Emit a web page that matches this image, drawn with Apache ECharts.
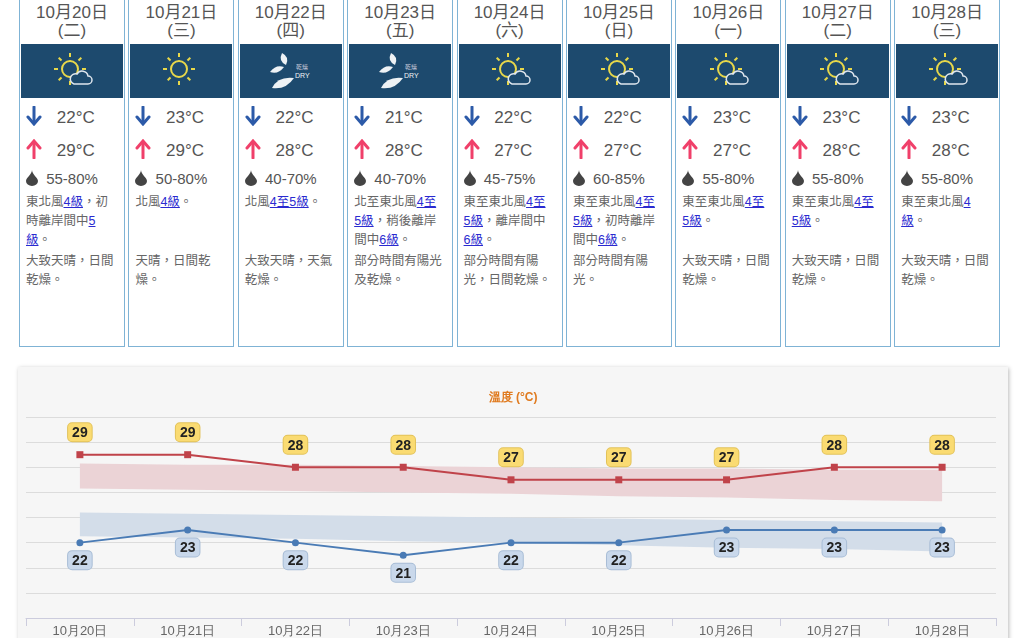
<!DOCTYPE html>
<html>
<head>
<meta charset="utf-8">
<script src="https://cdn.jsdelivr.net/npm/echarts@6/dist/echarts.min.js"></script>
<style>
body{margin:0;width:1024px;height:638px;overflow:hidden;background:#fff;font-family:Arial,"Noto Sans CJK TC",sans-serif;position:relative}
#cards{position:absolute;left:19px;top:-4px;display:flex;gap:3.4px}
.card{width:106px;height:351px;border:1px solid #7fb3d5;box-sizing:border-box;position:relative;color:#555}
.dt{text-align:center;font-size:17px;line-height:18px;margin-top:7px}
.ic{position:absolute;left:1px;right:1px;top:47px;height:54px;background:#1d4a6e}
.ic svg{position:absolute;left:50%;top:50%;transform:translate(-50%,-50%)}
.row{position:absolute;left:6px;font-size:17px;color:#555}
.row b{display:inline-block;width:26px;font-weight:bold}
.hum{position:absolute;left:6px;top:173px;font-size:15px;color:#555}
.wind{position:absolute;left:6px;right:10px;top:196px;font-size:12.5px;line-height:19px;color:#666}
.wind a{color:#2a2ad0;text-decoration:underline}
.desc{position:absolute;left:6px;right:10px;top:255px;font-size:12.5px;line-height:19px;color:#666}
#chart{position:absolute;left:18px;top:367px;width:990px;height:275px;background:#f6f6f6;box-shadow:1px 1px 4px #bbb}
</style>
</head>
<body>
<div id="cards"></div>
<div id="chart"></div>
<script>
var dates = ["10月20日","10月21日","10月22日","10月23日","10月24日","10月25日","10月26日","10月27日","10月28日"];
var weekdays = ["(二)","(三)","(四)","(五)","(六)","(日)","(一)","(二)","(三)"];
var icons = ["suncloud","sun","dry","dry","suncloud","suncloud","suncloud","suncloud","suncloud"];
var minTemp = [22, 23, 22, 21, 22, 22, 23, 23, 23];
var maxTemp = [29, 29, 28, 28, 27, 27, 27, 28, 28];
var humidity = ["55-80%","50-80%","40-70%","40-70%","45-75%","60-85%","55-80%","55-80%","55-80%"];
var winds = [
  '東北風<a>4級</a>，初時離岸間中<a>5級</a>。',
  '北風<a>4級</a>。',
  '北風<a>4至5級</a>。',
  '北至東北風<a>4至5級</a>，稍後離岸間中<a>6級</a>。',
  '東至東北風<a>4至5級</a>，離岸間中<a>6級</a>。',
  '東至東北風<a>4至5級</a>，初時離岸間中<a>6級</a>。',
  '東至東北風<a>4至5級</a>。',
  '東至東北風<a>4至5級</a>。',
  '東至東北風<a>4級</a>。'
];
var descs = ["大致天晴，日間乾燥。","天晴，日間乾燥。","大致天晴，天氣乾燥。","部分時間有陽光及乾燥。","部分時間有陽光，日間乾燥。","部分時間有陽光。","大致天晴，日間乾燥。","大致天晴，日間乾燥。","大致天晴，日間乾燥。"];
// 氣候範圍帶 (估計)
var maxBandLow = [26.3, 26.2, 26.1, 26.0, 25.9, 25.7, 25.6, 25.4, 25.3];
var maxBandHigh = [28.3, 28.2, 28.2, 28.1, 28.0, 27.9, 27.9, 27.8, 27.8];
var minBandLow = [22.5, 22.4, 22.3, 22.1, 22.0, 21.8, 21.6, 21.5, 21.3];
var minBandHigh = [24.4, 24.3, 24.2, 24.1, 24.0, 23.9, 23.8, 23.7, 23.6];

function sunSvg(cloud){
  var s = '<svg width="44" height="40" viewBox="0 0 44 40"><g stroke="#e8d84a" stroke-width="2" fill="none">'+
    '<circle cx="20" cy="18" r="8"/>';
  for (var i = 0; i < 8; i++) {
    var a = i * Math.PI / 4;
    s += '<line x1="'+(20+12*Math.cos(a))+'" y1="'+(18+12*Math.sin(a))+'" x2="'+(20+16*Math.cos(a))+'" y2="'+(18+16*Math.sin(a))+'"/>';
  }
  s += '</g>';
  if (cloud) s += '<path d="M24 33 h14 a4 4 0 0 0 0-8 a6 6 0 0 0-11-2 a5 5 0 0 0-3 10z" fill="#1d4a6e" stroke="#dfe6ee" stroke-width="1.5"/>';
  return s + '</svg>';
}
function drySvg(){
  return '<svg width="50" height="40" viewBox="0 0 50 40"><g fill="#eef2f5">'+
    '<path d="M16 2 q8 4 4 12 q-8 -4 -4 -12z"/>'+
    '<path d="M4 21 q6 -8 14 -5 q-6 8 -14 5z"/>'+
    '<path d="M6 37 q6 -12 22 -10 q-8 12 -22 10z"/></g>'+
    '<text x="30" y="18" font-size="6" fill="#ccd">乾燥</text><text x="29" y="27" font-size="7" fill="#eef2f5">DRY</text></svg>';
}

var html = '';
for (var i = 0; i < dates.length; i++) {
  var ic = icons[i] == 'dry' ? drySvg() : sunSvg(icons[i] == 'suncloud');
  html += '<div class="card"><div class="dt">'+dates[i]+'<br>'+weekdays[i]+'</div>'+
    '<div class="ic">'+ic+'</div>'+
    '<div class="row" style="top:109px"><b></b> '+minTemp[i]+'°C</div>'+
    '<div class="row" style="top:142px"><b></b> '+maxTemp[i]+'°C</div>'+
    '<div class="hum"><span></span> '+humidity[i]+'</div>'+
    '<div class="wind">'+winds[i]+'</div><div class="desc">'+descs[i]+'</div></div>';
}
document.getElementById('cards').innerHTML = html;
// 水滴與箭頭圖形
document.querySelectorAll('.hum span').forEach(function(s){
  s.outerHTML = '<svg width="12" height="16" viewBox="0 0 12 16" style="vertical-align:-2px;margin-right:4px"><path d="M6 0 C6 4 0 8 0 11 a6 5 0 0 0 12 0 C12 8 6 4 6 0z" fill="#444"/></svg>';
});
document.querySelectorAll('.row b').forEach(function(b, k){
  var up = k % 2 == 1, c = up ? '#f0406a' : '#2c5aa8';
  b.innerHTML = '<svg width="16" height="20" viewBox="0 0 16 20" style="vertical-align:-3px"><g stroke="'+c+'" stroke-width="3" fill="none" stroke-linecap="round">'+
    (up ? '<line x1="8" y1="19" x2="8" y2="3"/><polyline points="2,9 8,2 14,9"/>' : '<line x1="8" y1="1" x2="8" y2="17"/><polyline points="2,11 8,18 14,11"/>')+'</g></svg>';
});

var myChart = echarts.init(document.getElementById('chart'));
function diff(hi, lo){ return hi.map(function(v, k){ return +(v - lo[k]).toFixed(2); }); }
var option = {
  animation: false,
  title: { text: '溫度 (°C)', left: 'center', top: 20, textStyle: { color: '#e07b20', fontSize: 12, fontWeight: 'bold' } },
  grid: { left: 8, right: 12, top: 50, bottom: 24 },
  xAxis: {
    type: 'category', data: dates,
    axisLine: { lineStyle: { color: '#ccd' } },
    axisTick: { show: true, length: 8, lineStyle: { color: '#ccd' } },
    axisLabel: { color: '#666', fontSize: 13, margin: 7 }
  },
  yAxis: {
    type: 'value', min: 16, max: 32, interval: 2,
    axisLabel: { show: false },
    splitLine: { lineStyle: { color: '#dcdcdc' } }
  },
  series: [
    { type: 'line', stack: 'hb', data: maxBandLow, symbol: 'none', lineStyle: { opacity: 0 }, silent: true },
    { type: 'line', stack: 'hb', data: diff(maxBandHigh, maxBandLow), symbol: 'none', lineStyle: { opacity: 0 }, areaStyle: { color: '#ebd3d6', opacity: 1 }, silent: true },
    { type: 'line', stack: 'lb', data: minBandLow, symbol: 'none', lineStyle: { opacity: 0 }, silent: true },
    { type: 'line', stack: 'lb', data: diff(minBandHigh, minBandLow), symbol: 'none', lineStyle: { opacity: 0 }, areaStyle: { color: '#d3dde9', opacity: 1 }, silent: true },
    {
      name: '最高', type: 'line', data: maxTemp, symbol: 'rect', symbolSize: 7,
      itemStyle: { color: '#c0434a' }, lineStyle: { color: '#c0434a', width: 2 },
      label: { show: true, position: 'top', distance: 10, color: '#222', fontWeight: 'bold', fontSize: 14,
        backgroundColor: '#fadb72', borderColor: '#e2c25a', borderWidth: 1, borderRadius: 4, padding: [3, 4, 1, 4] }
    },
    {
      name: '最低', type: 'line', data: minTemp, symbol: 'circle', symbolSize: 7,
      itemStyle: { color: '#4a7bb5' }, lineStyle: { color: '#4a7bb5', width: 2 },
      label: { show: true, position: 'bottom', distance: 5, color: '#222', fontWeight: 'bold', fontSize: 14,
        backgroundColor: '#c9d8eb', borderColor: '#a8bdd6', borderWidth: 1, borderRadius: 4, padding: [3, 4, 1, 4] }
    }
  ]
};
myChart.setOption(option);
</script>
</body>
</html>
